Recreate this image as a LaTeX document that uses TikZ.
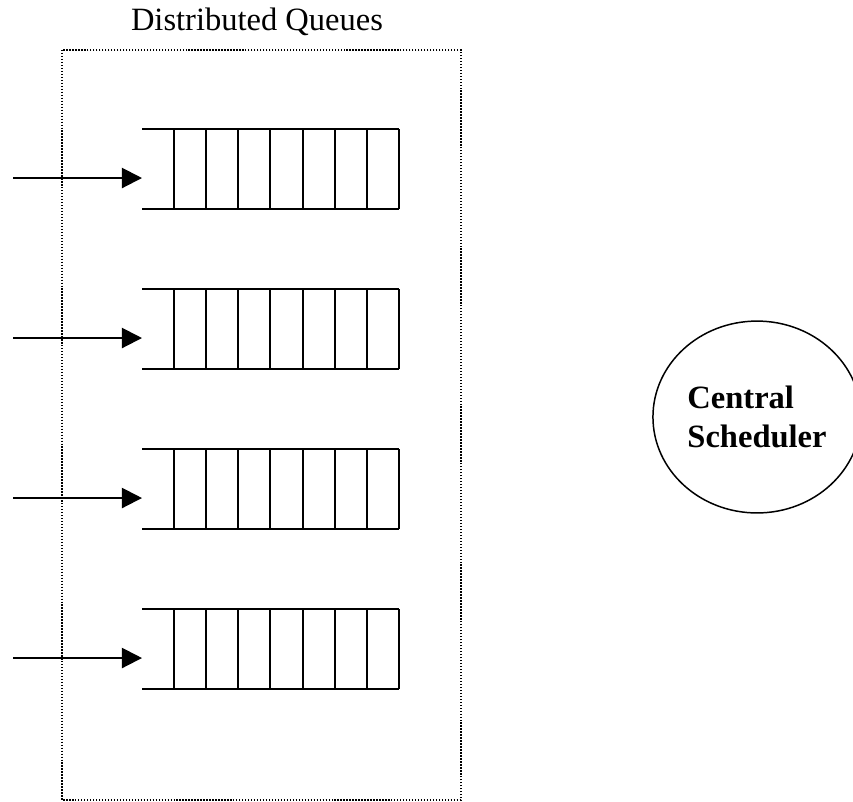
\documentclass[tikz,border=0pt]{standalone}
\usepackage{fontspec}
\setmainfont{Liberation Serif}
\usetikzlibrary{arrows.meta}
\usetikzlibrary{shapes.geometric}

\begin{document}
\begin{tikzpicture}[x=0.369pt,y=-0.369pt,
	queueline/.style={line width=0.75pt},
	inarrow/.style={line width=0.75pt,-{Triangle[length=7.4pt,width=7.4pt]}},
	dotbox/.style={line width=0.5pt,dash pattern=on 0.5pt off 0.6pt}]
	\useasboundingbox (0,0) rectangle (853,801);
	\clip (0,0) rectangle (853,801);
	\node (title) at (257,22) {\fontsize{12}{14}\selectfont Distributed Queues};
	\draw[dotbox] (62,50) rectangle (461,800); % box round the queues
	\foreach \q/\y in {1/129,2/289,3/449,4/609}{
		\coordinate (src\q) at (13,\y+49);
		\coordinate (in\q) at (142,\y+49);
		\draw[queueline] (142,\y) -- (399,\y) (142,\y+80) -- (399,\y+80);
		\foreach \k in {0,...,7}
			\draw[queueline] (174+\k*32.14,\y) -- ++(0,80); % cells
		\draw[inarrow] (src\q) -- (in\q);
	}
	\node[draw,ellipse,line width=0.55pt,inner sep=0pt,
		minimum width=76.8pt,minimum height=70.8pt,align=left,
		font=\fontsize{12}{14.4}\selectfont\bfseries]
		(sched) at (757,417) {Central\\Scheduler};
\end{tikzpicture}
\end{document}
